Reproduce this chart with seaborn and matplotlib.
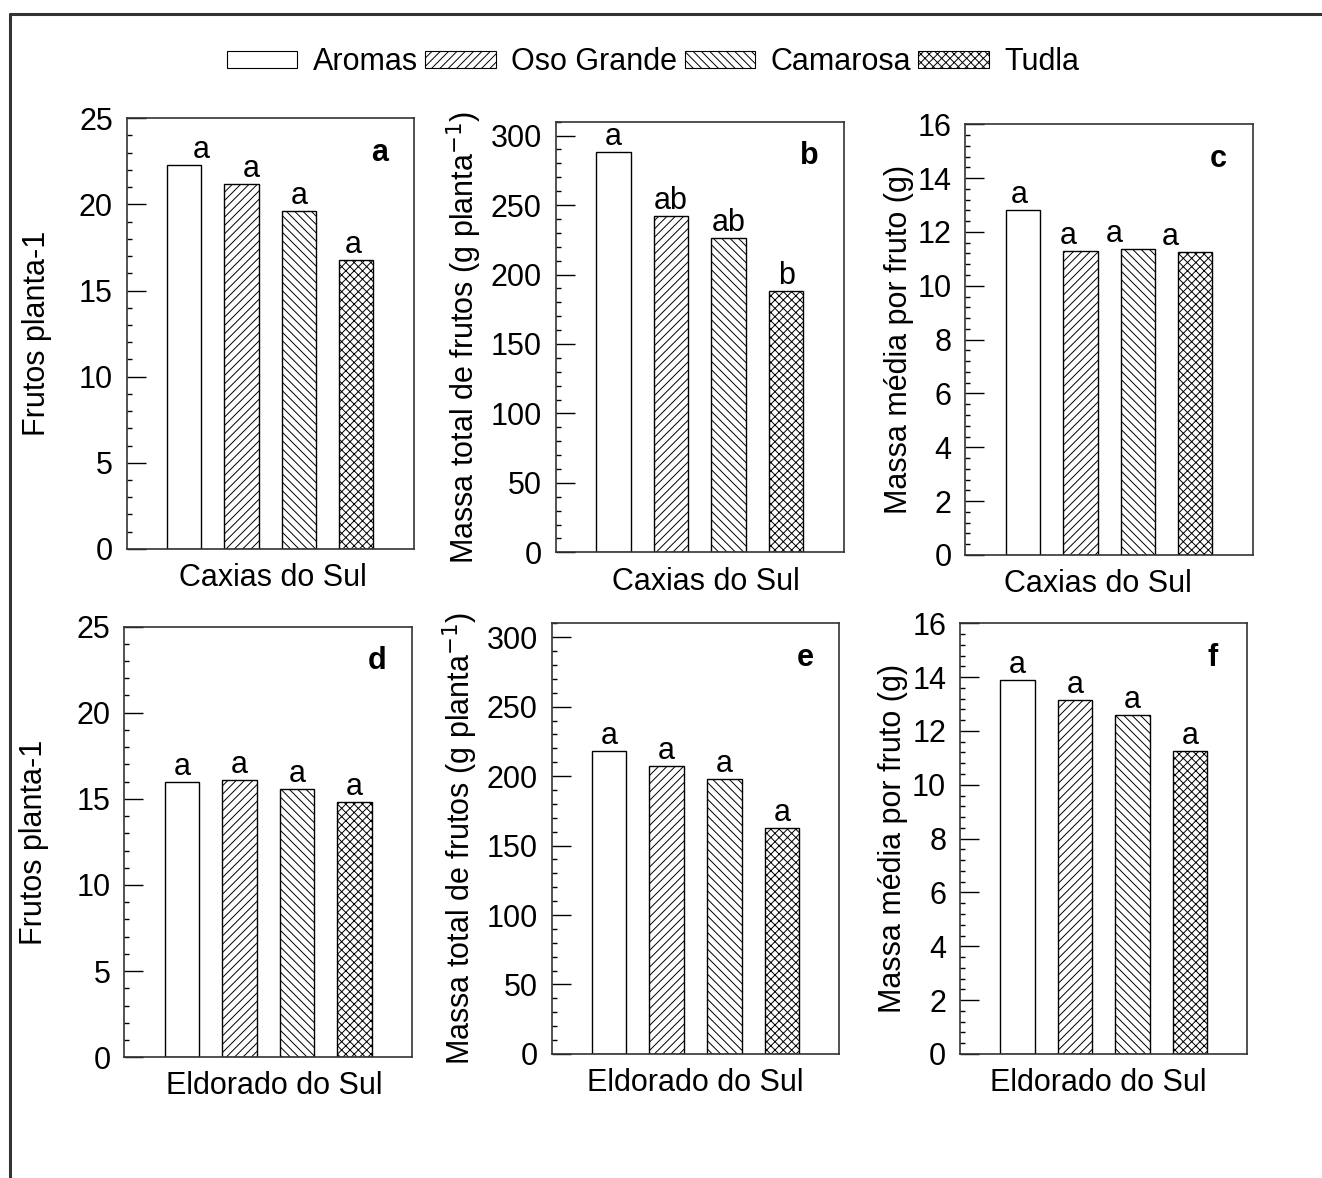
import numpy as np
import pandas as pd
import matplotlib
matplotlib.use("Agg")
import matplotlib.pyplot as plt
import matplotlib.patches as mpatches
from matplotlib.lines import Line2D
from matplotlib.ticker import MultipleLocator
import seaborn as sns

sns.set_style("ticks")
plt.rcParams['font.family'] = ['Liberation Sans', 'DejaVu Sans']
plt.rcParams['hatch.linewidth'] = 0.7
plt.rcParams['hatch.color'] = 'black'
plt.rcParams['text.color'] = 'black'
plt.rcParams['axes.labelcolor'] = 'black'
plt.rcParams['ytick.color'] = 'black'
plt.rcParams['xtick.color'] = 'black'

# data
cultivars = ["Aromas", "Oso Grande", "Camarosa", "Tudla"]
hatches = ["", "////", "\\\\\\\\", "xxxx"]
sites = ["Caxias do Sul", "Eldorado do Sul"]

frutos_caxias = [22.3, 21.2, 19.6, 16.8]
frutos_eldorado = [16.0, 16.1, 15.6, 14.8]
massa_total_caxias = [288, 242, 226, 188]
massa_total_eldorado = [218, 207, 198, 163]
massa_media_caxias = [12.8, 11.3, 11.35, 11.25]
massa_media_eldorado = [13.9, 13.15, 12.6, 11.25]

letras_frutos_caxias = ["a", "a", "a", "a"]
letras_frutos_eldorado = ["a", "a", "a", "a"]
letras_total_caxias = ["a", "ab", "ab", "b"]
letras_total_eldorado = ["a", "a", "a", "a"]
letras_media_caxias = ["a", "a", "a", "a"]
letras_media_eldorado = ["a", "a", "a", "a"]

ylab_frutos = "Frutos planta-1"
ylab_total = "Massa total de frutos (g planta$^{-1}$)"
ylab_media = "Massa média por fruto (g)"

# one entry per panel
panels = [
    ("a", sites[0], frutos_caxias, letras_frutos_caxias, ylab_frutos, 25, 5, 1),
    ("b", sites[0], massa_total_caxias, letras_total_caxias, ylab_total, 310, 50, 10),
    ("c", sites[0], massa_media_caxias, letras_media_caxias, ylab_media, 16, 2, 0.4),
    ("d", sites[1], frutos_eldorado, letras_frutos_eldorado, ylab_frutos, 25, 5, 1),
    ("e", sites[1], massa_total_eldorado, letras_total_eldorado, ylab_total, 310, 50, 10),
    ("f", sites[1], massa_media_eldorado, letras_media_eldorado, ylab_media, 16, 2, 0.4),
]

# axes rectangles in figure fraction
rects = {
    "a": [0.0958, 0.534, 0.2171, 0.3656],
    "b": [0.4203, 0.5311, 0.2179, 0.3656],
    "c": [0.7302, 0.5289, 0.2174, 0.3656],
    "d": [0.0940, 0.1025, 0.2176, 0.3656],
    "e": [0.4173, 0.1053, 0.2176, 0.3656],
    "f": [0.7262, 0.1053, 0.2174, 0.3656],
}
ylabel_x = {"a": -0.26, "b": -0.25, "c": -0.18, "d": -0.26, "e": -0.25, "f": -0.18}
xlabel_x = {"a": 0.51, "b": 0.52, "c": 0.46, "d": 0.52, "e": 0.5, "f": 0.48}
letter_dx = {"a": [0.3, 0.17, 0, -0.05], "c": [-0.07, -0.21, -0.41, -0.44]}

fs = 22

fig = plt.figure(figsize=(13.22, 11.78), dpi=100)

for name, site, vals, letras, ylab, ymax, major, minor in panels:
    ax = fig.add_axes(rects[name])
    df = pd.DataFrame({"cultivar": cultivars, "valor": vals})
    sns.barplot(data=df, x="cultivar", y="valor", order=cultivars, width=0.6,
                color="white", edgecolor="black", linewidth=1.0, saturation=1,
                errorbar=None, ax=ax)
    for patch, h in zip(ax.patches, hatches):
        patch.set_hatch(h)

    ax.set_xlim(-1, 4)
    ax.set_ylim(0, ymax)
    ax.set_xticks([])
    ax.yaxis.set_major_locator(MultipleLocator(major))
    ax.yaxis.set_minor_locator(MultipleLocator(minor))
    ax.tick_params(axis="y", which="major", direction="in", length=13.5, width=1,
                   labelsize=fs, pad=10)
    ax.tick_params(axis="y", which="minor", direction="in", length=3.5, width=1)
    for sp in ax.spines.values():
        sp.set_visible(True)
        sp.set_linewidth(1.2)
        sp.set_color("#333333")

    ax.set_ylabel(ylab, fontsize=fs)
    ax.yaxis.set_label_coords(ylabel_x[name], 0.5)
    ax.set_xlabel(site, fontsize=fs)
    ax.xaxis.set_label_coords(xlabel_x[name], -0.033)

    dxs = letter_dx.get(name, [0, 0, 0, 0])
    for i, (v, l) in enumerate(zip(vals, letras)):
        ax.annotate(l, xy=(i + dxs[i], v), xytext=(0, 0), textcoords="offset points",
                    ha="center", va="bottom", fontsize=fs)

    ax.text(0.88, 0.92, name, transform=ax.transAxes, fontsize=fs,
            fontweight="bold", ha="center", va="center")

# legend
handles = [mpatches.Patch(facecolor="white", edgecolor="black", linewidth=0.8,
                          hatch=h, label=c) for c, h in zip(cultivars, hatches)]
fig.legend(handles=handles, loc="center", bbox_to_anchor=(0.494, 0.947), ncol=4,
           frameon=False, fontsize=fs, handlelength=2.3, handleheight=0.45,
           handletextpad=0.5, columnspacing=0.25)

# outer frame (left and top edges)
fx = 10 / 1322
fy = 1 - 14 / 1178
fig.add_artist(Line2D([fx, fx], [0, fy], transform=fig.transFigure, color="#333333", lw=2.2))
fig.add_artist(Line2D([fx, 1], [fy, fy], transform=fig.transFigure, color="#333333", lw=2.2))

fig.savefig("out.png", dpi=100)
